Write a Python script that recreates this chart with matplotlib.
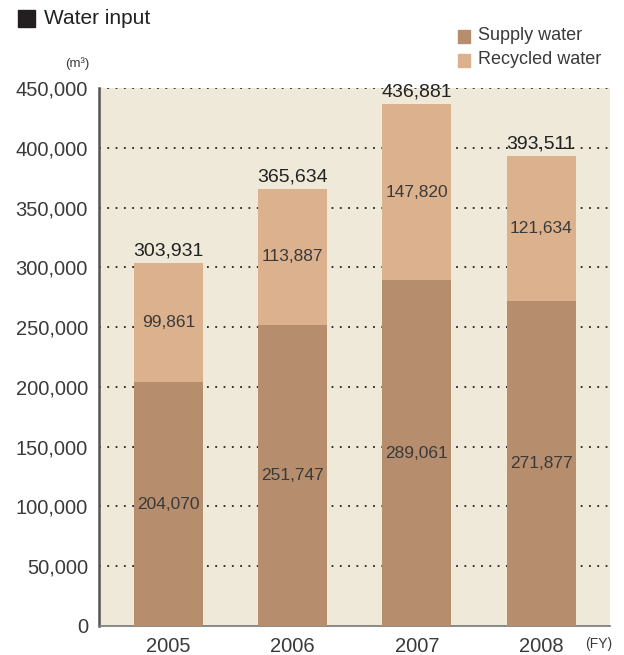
import matplotlib.pyplot as plt
import numpy as np

plt.rcParams['font.family'] = ['Liberation Sans', 'DejaVu Sans']

years = ['2005', '2006', '2007', '2008']
supply = [204070, 251747, 289061, 271877]
recycled = [99861, 113887, 147820, 121634]
totals = [303931, 365634, 436881, 393511]

c_supply = '#b68e6e'
c_recycled = '#dcb28e'
txt = '#3a3a3a'

fig = plt.figure(figsize=(6.24, 6.55), dpi=100)
ax = fig.add_axes([0.1587, 0.0443, 0.819, 0.8213])
ax.set_facecolor('#efe9d9')

x = np.arange(len(years))
w = 0.556
ax.bar(x, supply, w, color=c_supply, zorder=3)
ax.bar(x, recycled, w, bottom=supply, color=c_recycled, zorder=3)

for i in range(len(years)):
    ax.text(x[i], supply[i] / 2, f'{supply[i]:,}', ha='center', va='center',
            fontsize=12.5, color=txt, zorder=4)
    ax.text(x[i], supply[i] + recycled[i] / 2, f'{recycled[i]:,}', ha='center',
            va='center', fontsize=12.5, color=txt, zorder=4)
    ax.text(x[i], totals[i] + 2500, f'{totals[i]:,}', ha='center', va='bottom',
            fontsize=14, color='#222222', zorder=4)

ax.set_xlim(-0.56, 3.556)
ax.set_ylim(0, 450000)
yt = np.arange(0, 450001, 50000)
ax.set_yticks(yt)
ax.set_yticklabels([f'{v:,}' for v in yt], fontsize=14.5, color=txt)
ax.set_xticks(x)
ax.set_xticklabels(years, fontsize=14.5, color=txt)
ax.tick_params(length=0, pad=8)

for v in yt[1:]:
    ax.axhline(v, color='#222222', linestyle=(0, (1, 3.6)), linewidth=1.3, zorder=1)

for s in ['top', 'right']:
    ax.spines[s].set_visible(False)
ax.spines['left'].set_color('#555555')
ax.spines['left'].set_linewidth(1.8)
ax.spines['bottom'].set_color('#777777')
ax.spines['bottom'].set_linewidth(1.2)

# title with square marker
fig.patches.append(plt.Rectangle((18 / 624, 1 - 27 / 655), 17 / 624, 17 / 655,
                                 transform=fig.transFigure, color='#231f20'))
fig.text(44 / 624, 1 - 18 / 655, 'Water input', fontsize=15, color='#222222', va='center')
fig.text(0.104, 0.903, '(m³)', fontsize=9.5, color=txt, va='center')
fig.text(0.938, 0.017, '(FY)', fontsize=10, color=txt, va='center')

# legend
fig.patches.append(plt.Rectangle((458 / 624, 1 - 43 / 655), 12 / 624, 13 / 655,
                                 transform=fig.transFigure, color=c_supply))
fig.patches.append(plt.Rectangle((458 / 624, 1 - 67 / 655), 12 / 624, 13 / 655,
                                 transform=fig.transFigure, color=c_recycled))
fig.text(478 / 624, 1 - 36 / 655, 'Supply water', fontsize=13, color=txt, va='center')
fig.text(478 / 624, 1 - 60 / 655, 'Recycled water', fontsize=13, color=txt, va='center')

fig.savefig('out.png', dpi=100)
